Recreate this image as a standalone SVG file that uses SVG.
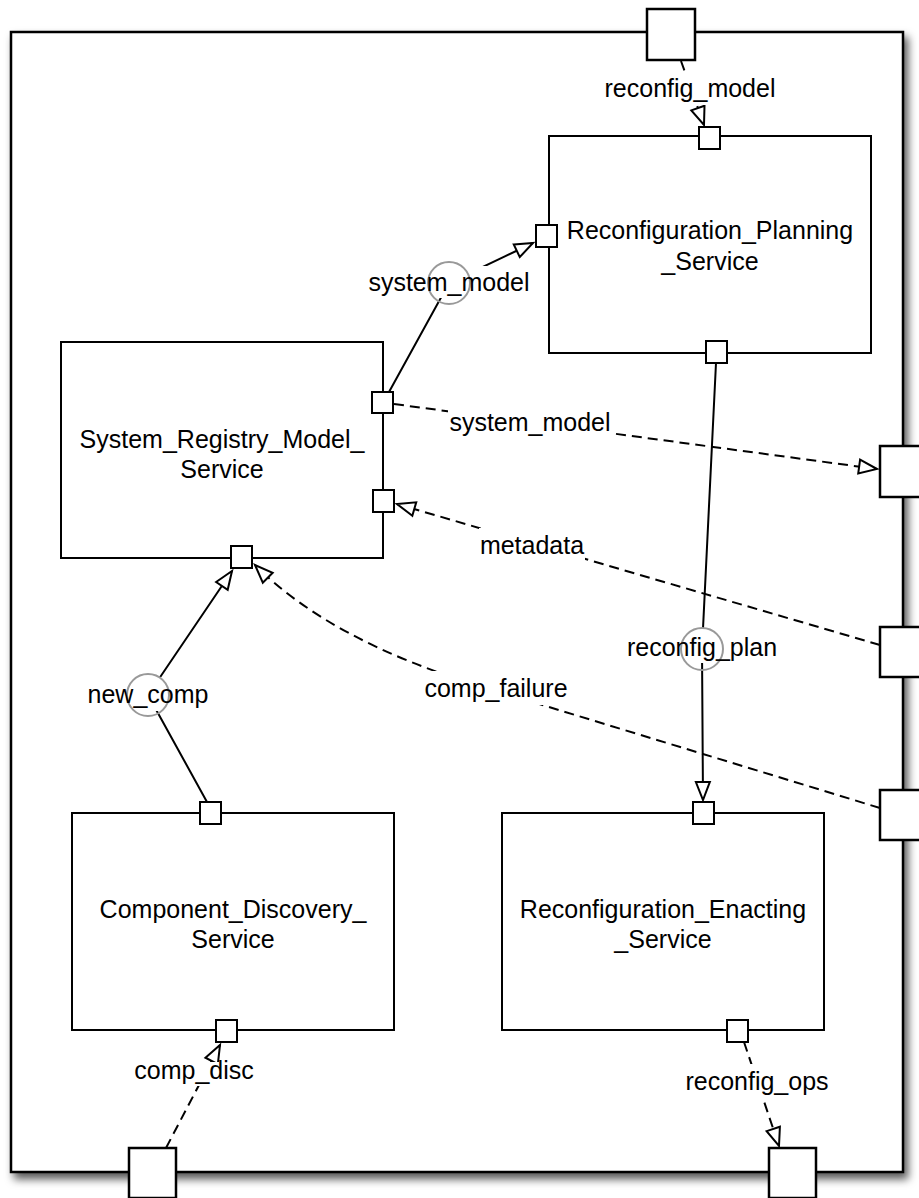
<svg xmlns="http://www.w3.org/2000/svg" width="919" height="1198" viewBox="0 0 919 1198">
  <style>
    .frame { fill: #ffffff; stroke: #000000; stroke-width: 2.5; }
    .box { fill: #ffffff; stroke: #000000; stroke-width: 2; }
    .port { fill: #ffffff; stroke: #000000; stroke-width: 2; }
    .xport { fill: #ffffff; stroke: #000000; stroke-width: 2.5; }
    .wire { fill: none; stroke: #000000; stroke-width: 2; }
    .dash { stroke-dasharray: 10 6; }
    .pipe { fill: none; stroke: #999999; stroke-width: 2; }
    .lblbg { fill: #ffffff; stroke: none; }
    text { font-family: "Liberation Sans", Arial, Helvetica, sans-serif; font-size: 25px; fill: #000000; text-anchor: middle; }
  </style>
  <defs>
    <filter id="frameShadow" x="-5%" y="-5%" width="110%" height="110%">
      <feDropShadow dx="4" dy="6" stdDeviation="4" flood-color="#000000" flood-opacity="0.65"/>
    </filter>
    <marker id="openArrow" markerUnits="userSpaceOnUse" markerWidth="22" markerHeight="18" refX="18" refY="7" orient="auto" overflow="visible">
      <path d="M0,0 L18,7 L0,14 Z" fill="#ffffff" stroke="#000000" stroke-width="2" stroke-linejoin="miter"/>
    </marker>
  </defs>

  <!-- enclosing composite component -->
  <g id="composite">
    <rect class="frame" x="11" y="32" width="892" height="1140" filter="url(#frameShadow)"/>
  </g>

  <!-- inner services -->
  <g id="Reconfiguration_Planning_Service">
    <rect class="box" x="549" y="136" width="322" height="217"/>
    <text x="710" y="239">Reconfiguration_Planning</text>
    <text x="710" y="270">_Service</text>
  </g>
  <g id="System_Registry_Model_Service">
    <rect class="box" x="61" y="342" width="322" height="216"/>
    <text x="222" y="448">System_Registry_Model_</text>
    <text x="222" y="478">Service</text>
  </g>
  <g id="Component_Discovery_Service">
    <rect class="box" x="72" y="813" width="322" height="217"/>
    <text x="233" y="918">Component_Discovery_</text>
    <text x="233" y="948">Service</text>
  </g>
  <g id="Reconfiguration_Enacting_Service">
    <rect class="box" x="502" y="813" width="322" height="217"/>
    <text x="663" y="918">Reconfiguration_Enacting</text>
    <text x="663" y="948">_Service</text>
  </g>

  <!-- connectors -->
  <g id="connectors">
    <path class="wire dash" d="M681,61 L704,125" marker-end="url(#openArrow)"/>
    <path class="wire" d="M389,392 L449,283 L533,243" marker-end="url(#openArrow)"/>
    <path class="wire dash" d="M394,404 L877,469" marker-end="url(#openArrow)"/>
    <path class="wire dash" d="M880,645 L397,504" marker-end="url(#openArrow)"/>
    <path class="wire dash" d="M880,808 L480,686 Q331,641 255,565" marker-end="url(#openArrow)"/>
    <path class="wire" d="M716,363 L702,649 L703,800" marker-end="url(#openArrow)"/>
    <path class="wire" d="M207,802 L148,695 L232,571" marker-end="url(#openArrow)"/>
    <path class="wire dash" d="M166,1148 L220,1045" marker-end="url(#openArrow)"/>
    <path class="wire dash" d="M744,1042 L779,1146" marker-end="url(#openArrow)"/>

    <!-- label backgrounds -->
    <rect class="lblbg" x="603" y="71" width="174" height="34"/>
    <rect class="lblbg" x="367" y="266" width="165" height="32"/>
    <rect class="lblbg" x="448" y="405" width="164" height="34"/>
    <rect class="lblbg" x="479" y="528" width="106" height="34"/>
    <rect class="lblbg" x="423" y="671" width="146" height="34"/>
    <rect class="lblbg" x="626" y="629" width="152" height="34"/>
    <rect class="lblbg" x="86" y="677" width="124" height="34"/>
    <rect class="lblbg" x="133" y="1062" width="122" height="24"/>
    <rect class="lblbg" x="684" y="1064" width="146" height="34"/>

    <!-- provided-interface circles -->
    <circle class="pipe" cx="449" cy="283" r="21"/>
    <circle class="pipe" cx="702" cy="649" r="21"/>
    <circle class="pipe" cx="148" cy="695" r="21"/>

    <text x="690" y="97">reconfig_model</text>
    <text x="449" y="291">system_model</text>
    <text x="530" y="431">system_model</text>
    <text x="532" y="554">metadata</text>
    <text x="496" y="697">comp_failure</text>
    <text x="702" y="656">reconfig_plan</text>
    <text x="148" y="703">new_comp</text>
    <text x="194" y="1079">comp_disc</text>
    <text x="757" y="1090">reconfig_ops</text>
  </g>

  <!-- ports of inner services -->
  <g id="ports">
    <rect class="port" x="699" y="127" width="21" height="22"/>
    <rect class="port" x="536" y="225" width="21" height="22"/>
    <rect class="port" x="706" y="341" width="21" height="22"/>
    <rect class="port" x="372" y="392" width="21" height="21"/>
    <rect class="port" x="373" y="490" width="21" height="22"/>
    <rect class="port" x="231" y="546" width="21" height="22"/>
    <rect class="port" x="200" y="802" width="21" height="22"/>
    <rect class="port" x="216" y="1020" width="21" height="22"/>
    <rect class="port" x="693" y="802" width="21" height="22"/>
    <rect class="port" x="727" y="1020" width="21" height="22"/>
  </g>

  <!-- ports of the composite -->
  <g id="external_ports">
    <rect class="xport" x="647" y="9" width="48" height="51"/>
    <rect class="xport" x="880" y="446" width="47" height="51"/>
    <rect class="xport" x="880" y="627" width="47" height="50"/>
    <rect class="xport" x="880" y="790" width="47" height="50"/>
    <rect class="xport" x="129" y="1148" width="47" height="50"/>
    <rect class="xport" x="769" y="1148" width="47" height="50"/>
  </g>
</svg>
